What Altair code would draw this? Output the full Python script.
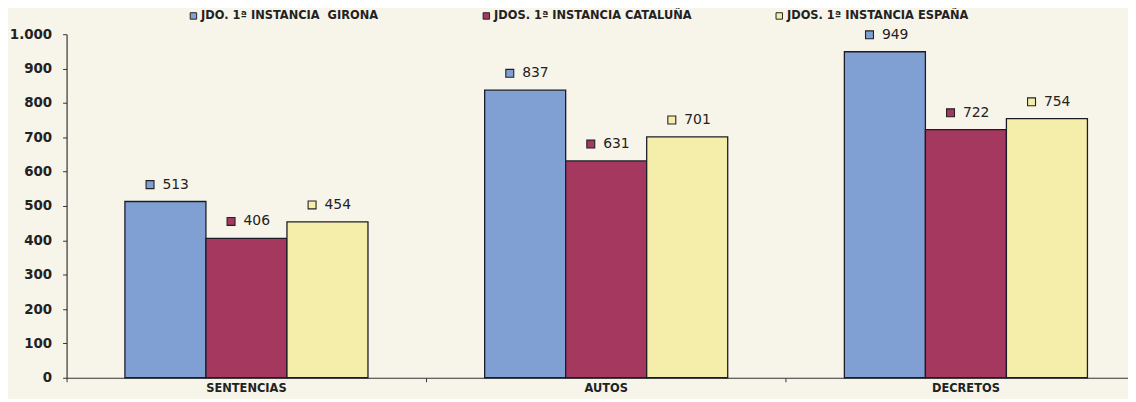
import altair as alt
import pandas as pd

categories = ["SENTENCIAS", "AUTOS", "DECRETOS"]
series = ["JDO. 1ª INSTANCIA\u00a0 GIRONA", "JDOS. 1ª INSTANCIA CATALUÑA", "JDOS. 1ª INSTANCIA ESPAÑA"]
girona = [513, 837, 949]
cataluna = [406, 631, 722]
espana = [454, 701, 754]
colors = ["#809fd2", "#a5385e", "#f5eeaa"]
y_ticks = [0, 100, 200, 300, 400, 500, 600, 700, 800, 900, 1000]

rows = []
for s, vals in zip(series, [girona, cataluna, espana]):
    for c, v in zip(categories, vals):
        rows.append({"categoria": c, "serie": s, "valor": v})
df = pd.DataFrame(rows)

FONT = "DejaVu Sans"
STEP = 362.3

x = alt.X(
    "categoria:N",
    sort=categories,
    scale=alt.Scale(range=[0, 3 * STEP], paddingInner=0, paddingOuter=0),
    axis=alt.Axis(
        title=None, labelAngle=0, bandPosition=0,
        tickSize=4, labelPadding=1, labelFont=FONT, labelFontSize=11.5,
        labelFontWeight="bold", labelColor="#222", domainColor="#333",
        tickColor="#333", domainWidth=1.2,
    ),
)
xo = alt.XOffset("serie:N", sort=series,
                 scale=alt.Scale(paddingInner=0, paddingOuter=0.72))
y = alt.Y(
    "valor:Q",
    scale=alt.Scale(domain=[0, 1000], nice=False),
    axis=alt.Axis(
        title=None, values=y_ticks, grid=False, tickSize=4, labelPadding=11,
        labelFont=FONT, labelFontSize=13.5, labelFontWeight="bold",
        labelColor="#222", domainColor="#333", tickColor="#333", domainWidth=1.2,
        labelExpr="datum.value == 1000 ? '1.000' : datum.label",
    ),
)
fill_scale = alt.Scale(domain=series, range=colors)

bars = alt.Chart(df).mark_bar(stroke="#1c1c28", strokeWidth=1.3).encode(
    x=x, xOffset=xo, y=y,
    fill=alt.Fill(
        "serie:N", scale=fill_scale,
        legend=alt.Legend(
            title=None, orient="none", direction="horizontal",
            legendX=122, legendY=-24.5, padding=0, columnPadding=82,
            symbolType="square", symbolSize=42, symbolStrokeColor="#222",
            symbolStrokeWidth=1, labelOffset=2, labelFont=FONT,
            labelFontSize=11.5, labelFontWeight="bold", labelColor="#222",
            labelLimit=400, gridAlign="all",
        ),
    ),
)

marker_path = "M -4.875 -5.25 H -2.875 V -3.25 H -4.875 Z"
markers = alt.Chart(df).mark_point(
    shape=marker_path, size=64, filled=True, opacity=1,
    stroke="#222", strokeWidth=1.1,
).encode(
    x=x, xOffset=xo, y=y,
    fill=alt.Fill("serie:N", scale=fill_scale, legend=None),
)

labels = alt.Chart(df).mark_text(
    align="left", baseline="middle", dx=-3, dy=-17,
    font=FONT, fontSize=14, color="#222",
).encode(x=x, xOffset=xo, y=y, text=alt.Text("valor:Q"))

chart = alt.layer(bars, markers, labels).properties(
    width=1069, height=346,
    autosize=alt.AutoSizeParams(type="none"),
    padding={"left": 59, "top": 25, "right": 0, "bottom": 20},
    background="#f7f4ea",
).configure_view(stroke=None)

chart.save("out.html", embed_options={"renderer": "svg", "actions": False})
